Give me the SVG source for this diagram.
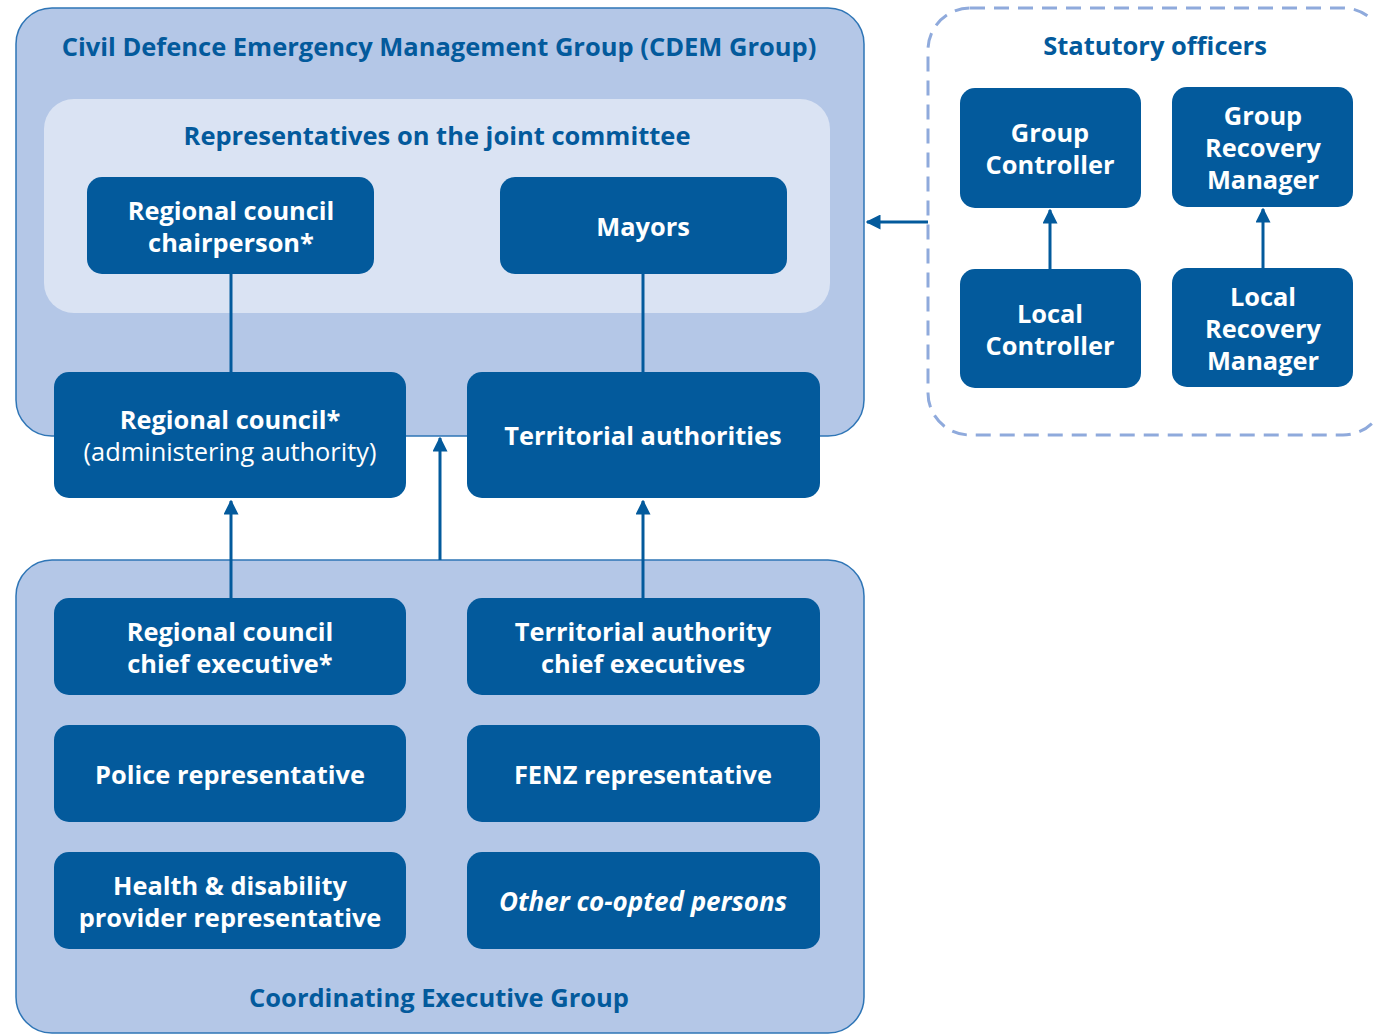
<svg xmlns="http://www.w3.org/2000/svg" width="1373" height="1034" viewBox="0 0 1373 1034">
<style>
.node{fill:#035a9c}
.t{font-family:"Open Sans","Noto Sans",sans-serif;font-weight:700;font-size:25.4px;fill:#ffffff;text-anchor:middle}
.n{font-weight:400}
.i{font-style:italic;font-size:26px}
.h{font-family:"Open Sans","Noto Sans",sans-serif;font-weight:700;font-size:25.5px;fill:#035a9c;text-anchor:middle}
.ln{stroke:#035a9c;stroke-width:3;fill:none}
</style>
<defs>
<marker id="ah" viewBox="0 0 10 10" refX="9" refY="5" markerWidth="5" markerHeight="5" markerUnits="strokeWidth" orient="auto">
<path d="M0,0 L10,5 L0,10 z" fill="#035a9c"/>
</marker>
</defs>
<g id="cdem-group">
<rect x="16" y="8" width="848" height="428" rx="36" fill="#b4c7e7" stroke="#2e75b6" stroke-width="1.5"/>
<text class="h" x="439" y="56">Civil Defence Emergency Management Group (CDEM Group)</text>
</g>
<g id="joint-committee">
<rect x="44" y="99" width="786" height="214" rx="30" fill="#dae3f3"/>
<text class="h" x="437" y="145">Representatives on the joint committee</text>
</g>
<g id="ceg">
<rect x="16" y="560" width="848" height="473" rx="36" fill="#b4c7e7" stroke="#2e75b6" stroke-width="1.5"/>
<text class="h" x="439" y="1007">Coordinating Executive Group</text>
</g>
<g id="statutory-officers">
<rect x="928" y="8" width="457" height="427" rx="42" fill="none" stroke="#8faadc" stroke-width="3" stroke-dasharray="15,9"/>
<text class="h" x="1155" y="55">Statutory officers</text>
</g>
<g id="rc-chair"><rect class="node" x="87" y="177" width="287" height="97" rx="15"/><text class="t" x="231" y="220">Regional council</text><text class="t" x="231" y="252">chairperson*</text></g>
<g id="mayors"><rect class="node" x="500" y="177" width="287" height="97" rx="15"/><text class="t" x="643" y="236">Mayors</text></g>
<g id="regional-council"><rect class="node" x="54" y="372" width="352" height="126" rx="15"/><text class="t" x="230" y="429">Regional council*</text><text class="t n" x="230" y="461">(administering authority)</text></g>
<g id="territorial-authorities"><rect class="node" x="467" y="372" width="353" height="126" rx="15"/><text class="t" x="643" y="445">Territorial authorities</text></g>
<g id="rc-ce"><rect class="node" x="54" y="598" width="352" height="97" rx="15"/><text class="t" x="230" y="641">Regional council</text><text class="t" x="230" y="673">chief executive*</text></g>
<g id="ta-ce"><rect class="node" x="467" y="598" width="353" height="97" rx="15"/><text class="t" x="643" y="641">Territorial authority</text><text class="t" x="643" y="673">chief executives</text></g>
<g id="police"><rect class="node" x="54" y="725" width="352" height="97" rx="15"/><text class="t" x="230" y="784">Police representative</text></g>
<g id="fenz"><rect class="node" x="467" y="725" width="353" height="97" rx="15"/><text class="t" x="643" y="784">FENZ representative</text></g>
<g id="health"><rect class="node" x="54" y="852" width="352" height="97" rx="15"/><text class="t" x="230" y="895">Health &amp; disability</text><text class="t" x="230" y="927">provider representative</text></g>
<g id="other"><rect class="node" x="467" y="852" width="353" height="97" rx="15"/><text class="t i" x="643" y="911">Other co-opted persons</text></g>
<g id="group-controller"><rect class="node" x="960" y="88" width="181" height="120" rx="15"/><text class="t" x="1050" y="142">Group</text><text class="t" x="1050" y="174">Controller</text></g>
<g id="group-recovery"><rect class="node" x="1172" y="87" width="181" height="120" rx="15"/><text class="t" x="1263" y="125">Group</text><text class="t" x="1263" y="157">Recovery</text><text class="t" x="1263" y="189">Manager</text></g>
<g id="local-controller"><rect class="node" x="960" y="269" width="181" height="119" rx="15"/><text class="t" x="1050" y="323">Local</text><text class="t" x="1050" y="355">Controller</text></g>
<g id="local-recovery"><rect class="node" x="1172" y="268" width="181" height="119" rx="15"/><text class="t" x="1263" y="306">Local</text><text class="t" x="1263" y="338">Recovery</text><text class="t" x="1263" y="370">Manager</text></g>
<g id="connectors">
<line class="ln" x1="231" y1="274" x2="231" y2="372"/>
<line class="ln" x1="643" y1="274" x2="643" y2="372"/>
<line class="ln" x1="231" y1="598" x2="231" y2="501" marker-end="url(#ah)"/>
<line class="ln" x1="643" y1="598" x2="643" y2="501" marker-end="url(#ah)"/>
<line class="ln" x1="440" y1="560" x2="440" y2="438" marker-end="url(#ah)"/>
<line class="ln" x1="1050" y1="269" x2="1050" y2="210" marker-end="url(#ah)"/>
<line class="ln" x1="1263" y1="268" x2="1263" y2="209" marker-end="url(#ah)"/>
<line class="ln" x1="928" y1="222" x2="867" y2="222" marker-end="url(#ah)"/>
</g>
</svg>
